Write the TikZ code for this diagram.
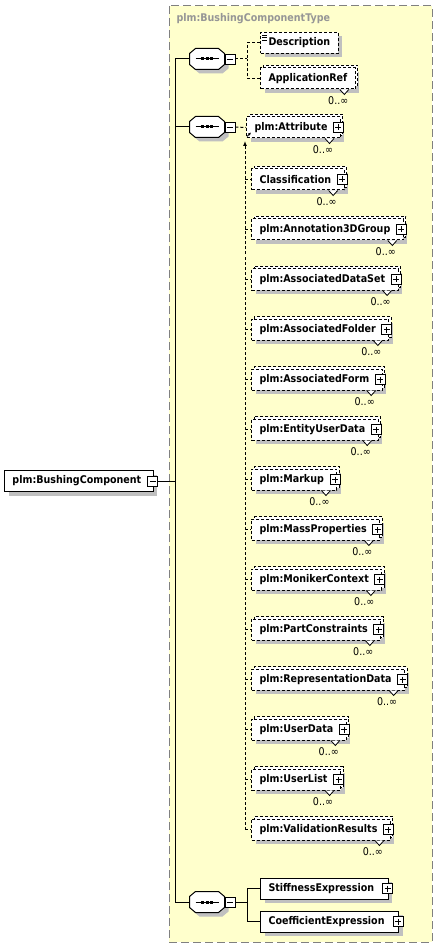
\documentclass[tikz,border=0pt]{standalone}
\usepackage{fontspec}
\newfontfamily\xsdfont[FakeStretch=0.9]{DejaVu Sans}
\usetikzlibrary{shadows,arrows.meta,positioning}
\definecolor{xsdyellow}{RGB}{255,255,204}
\definecolor{xsdframe}{RGB}{128,128,128}
\definecolor{xsdtitle}{RGB}{150,150,150}
\definecolor{xsdshadow}{RGB}{192,192,192}

\begin{document}
\begin{tikzpicture}[x=1pt, y=-1pt, line width=1pt,
  optdash/.style={dash pattern=on 3pt off 2pt},
  grayshadow/.style={general shadow={fill=xsdshadow, draw=none, shadow xshift=4pt, shadow yshift=-4pt}},
  elem/.style={rectangle, draw, fill=white, anchor=west,
    font=\xsdfont\bfseries\fontsize{10.6}{12}\selectfont,
    minimum height=21pt, inner xsep=0pt, inner ysep=0pt,
    execute at begin node=\hspace*{8pt}, execute at end node=\hspace*{#1},
    grayshadow},
  elem/.default=14pt,
  opt/.style={elem=#1, optdash},
  opt/.default=13pt,
  multi/.style={opt=#1, general shadow={fill=white, draw=black, optdash, shadow xshift=2.5pt, shadow yshift=2.5pt}},
  multi/.default=13pt,
  seq/.style={rectangle, minimum width=34pt, minimum height=20pt, inner sep=0pt},
  seqshape/.style={draw, fill=white, grayshadow},
  tog/.style={rectangle, draw, fill=white, solid, minimum size=10pt, inner sep=0pt, line width=0.8pt},
  minus/.style={tog, path picture={
      \draw ([xshift=2pt]path picture bounding box.west) -- ([xshift=-2pt]path picture bounding box.east);}},
  plus/.style={tog, path picture={
      \draw ([xshift=2pt]path picture bounding box.west) -- ([xshift=-2pt]path picture bounding box.east);
      \draw ([yshift=-2pt]path picture bounding box.north) -- ([yshift=2pt]path picture bounding box.south);}},
  occ/.style={font=\xsdfont\fontsize{10.6}{12}\selectfont, inner sep=0pt, anchor=east},
  notch/.style={fill=white, line width=0.8pt}]
\useasboundingbox (0,0) rectangle (438,949);

% complex type area
\draw[draw=xsdframe, fill=xsdyellow, dash pattern=on 8pt off 4pt] (169,6) rectangle (432,942);
\node[font=\xsdfont\bfseries\fontsize{10.6}{12}\selectfont, text=xsdtitle, anchor=west, inner sep=0pt] (title) at (176,19) {plm:BushingComponentType};

% root element
\node[elem=12pt] (root) at (4,481) {plm:BushingComponent};
\node[minus] (root-m) at ([xshift=-1pt]root.east) {};
\coordinate (bus) at (175,481);

% sequence symbols
\node[seq] (s1) at (207,59) {};
\node[seq] (s2) at (207,127) {};
\node[seq] (s3) at (207,902) {};
\foreach \s in {s1,s2,s3} {
  \draw[seqshape] ([xshift=6pt]\s.north west) -- ([xshift=-6pt]\s.north east)
    -- ([yshift=-5pt]\s.north east) -- ([yshift=5pt]\s.south east)
    -- ([xshift=-6pt]\s.south east) -- ([xshift=6pt]\s.south west)
    -- ([yshift=5pt]\s.south west) -- ([yshift=-5pt]\s.north west) -- cycle;
  \draw ([xshift=6pt]\s.west) -- ([xshift=-6pt]\s.east);
  \foreach \dx in {-6,-1.5,3}
    \fill ([shift={(\dx,-1.5)}]\s.center) rectangle +(3,3);
  \node[minus, anchor=west] (\s m) at (\s.east) {};
}

% first sequence
\node[opt=8pt] (desc) at (260,43) {Description};
\foreach \k in {0,2.5,5}
  \draw[line width=0.7pt] ([shift={(2,3+\k)}]desc.north west) -- ++(5,0);
\node[multi=8pt] (appref) at (260,78.5) {ApplicationRef};
\draw[notch] ([xshift=-16pt]appref.south east) -- ++(4.5,5) -- ++(4.5,-5);
\node[occ] (appref-o) at ([xshift=-7pt, yshift=-11pt]appref.south east) {0..∞};
\coordinate (j1) at (247,59);
\draw[optdash] (s1m.east) -- (j1);
\draw[optdash] (desc.west) -| (j1);
\draw[optdash] (appref.west) -| (j1);

% second sequence (any order)
\node[multi] (attr) at (246,127.5) {plm:Attribute};
\node[plus] (attr-p) at ([xshift=-2.5pt]attr.east) {};
\draw[notch] ([xshift=-16pt]attr.south east) -- ++(4.5,5) -- ++(4.5,-5);
\node[occ] (attr-o) at ([xshift=-7.5pt, yshift=-11.5pt]attr.south east) {0..∞};
\draw[optdash] (s2m.east) -- (attr.west);
\coordinate (vbus) at (245,141);
\draw[-{Latex[length=3pt,width=3pt]}, line width=0.8pt] ([shift={(1,-2)}]attr.south west) -- ++(4,-4);

\foreach \n/\lbl/\y in {cls/Classification/179.5, ann/plm:Annotation3DGroup/229.5,
    ads/plm:AssociatedDataSet/279.5, afo/plm:AssociatedFolder/329.5,
    afm/plm:AssociatedForm/379.5, eud/plm:EntityUserData/429.5,
    mkp/plm:Markup/479.5, mpr/plm:MassProperties/529.5,
    mon/plm:MonikerContext/579.5, pcn/plm:PartConstraints/629.5,
    rep/plm:RepresentationData/679.5, usd/plm:UserData/729.5,
    usl/plm:UserList/779.5, val/plm:ValidationResults/829.5} {
  \node[multi] (\n) at (251,\y) {\lbl};
  \node[plus] (\n-p) at ([xshift=-2.5pt]\n.east) {};
  \draw[notch] ([xshift=-16pt]\n.south east) -- ++(4.5,5) -- ++(4.5,-5);
  \node[occ] (\n-o) at ([xshift=-7.5pt, yshift=-11.5pt]\n.south east) {0..∞};
  \draw[optdash] (\n.west -| vbus) -- (\n.west);
}
\draw[optdash, -{Latex[length=5pt,width=4pt]}] (val.west -| vbus) -- (vbus);

% third sequence
\node[elem] (stiff) at (260,888.5) {StiffnessExpression};
\node[plus] (stiff-p) at ([xshift=-1pt]stiff.east) {};
\node[elem] (coef) at (260,921.5) {CoefficientExpression};
\node[plus] (coef-p) at ([xshift=-1pt]coef.east) {};
\coordinate (j3) at (247,902);
\draw (s3m.east) -- (j3);
\draw (stiff.west) -| (j3);
\draw (coef.west) -| (j3);

% main connectors
\draw (root-m.east) -- (bus);
\draw (s1.west) -| (bus);
\draw (s2.west) -| (bus);
\draw (s3.west) -| (bus);
\end{tikzpicture}
\end{document}
